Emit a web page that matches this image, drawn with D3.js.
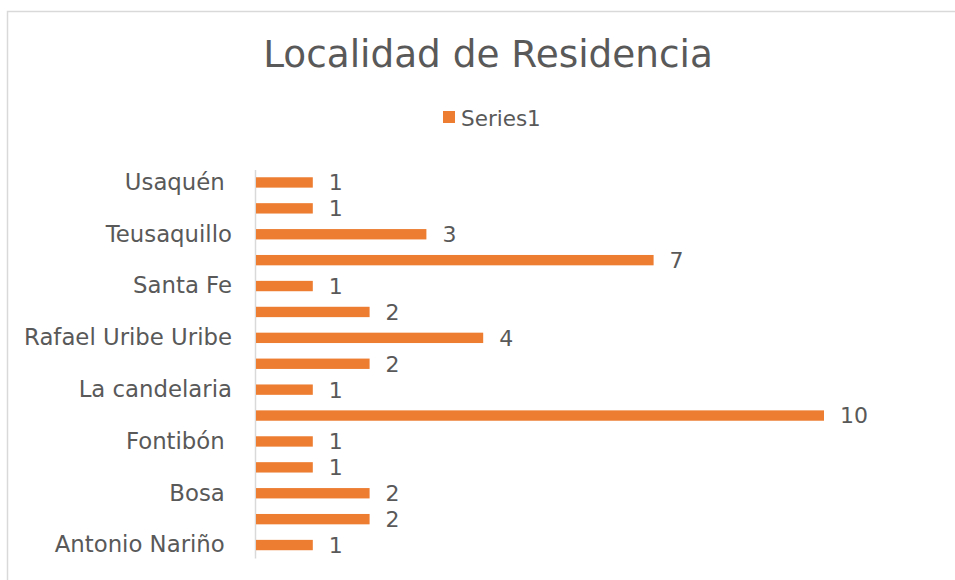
<!DOCTYPE html>
<html>
<head>
<meta charset="utf-8">
<script src="https://cdn.jsdelivr.net/npm/d3@7"></script>
<style>
  body { margin: 0; background: #fff; }
  text { font-family: "Century Gothic", "DejaVu Sans", sans-serif; fill: #595959; }
</style>
</head>
<body>
<div id="chart"></div>
<script>
// categories in sheet order (bottom to top); only every other one gets a label
var localidades = ["Antonio Nariño ", "Barrios Unidos", "Bosa ", "Chapinero", "Fontibón ",
    "Kennedy", "La candelaria", "Puente Aranda", "Rafael Uribe Uribe", "San Cristóbal",
    "Santa Fe", "Suba", "Teusaquillo", "Tunjuelito", "Usaquén "];
var valores = [1, 2, 2, 1, 1, 10, 1, 2, 4, 2, 1, 7, 3, 1, 1];
var serieNombre = "Series1";
var titulo = "Localidad de Residencia";

var width = 955;
var height = 580;
var naranja = "#ED7D31";

var svg = d3.select("#chart")
    .append("svg")
    .attr("width", width)
    .attr("height", height);

// chart frame
svg.append("rect")
    .attr("x", 7.5)
    .attr("y", 11.5)
    .attr("width", 962)
    .attr("height", 600)
    .attr("fill", "none")
    .attr("stroke", "#d9d9d9")
    .attr("stroke-width", 1.5);

svg.append("text")
    .attr("x", 488)
    .attr("y", 67)
    .attr("text-anchor", "middle")
    .style("font-size", "37.4px")
    .text(titulo);

// legend
var leyenda = svg.append("g").attr("transform", "translate(443,111)");
leyenda.append("rect")
    .attr("width", 12)
    .attr("height", 12)
    .attr("fill", naranja);
leyenda.append("text")
    .attr("x", 18)
    .attr("y", 15)
    .style("font-size", "21.5px")
    .text(serieNombre);

var x = d3.scaleLinear()
    .domain([0, 10])
    .range([256, 824]);

var y = d3.scaleBand()
    .domain(localidades.slice().reverse())
    .range([169.5, 558])
    .paddingInner(0.6)
    .paddingOuter(0.3);

var ejeY = svg.append("g")
    .attr("transform", "translate(255,0)")
    .call(d3.axisLeft(y)
        .tickSize(0)
        .tickPadding(23)
        .tickFormat(function (d) {
            return localidades.indexOf(d) % 2 == 0 ? d : "";
        }));
ejeY.select(".domain")
    .attr("stroke", "#d9d9d9")
    .attr("stroke-width", 1.5);
ejeY.selectAll("text")
    .attr("fill", "#595959")
    .style("font-family", "\"Century Gothic\", \"DejaVu Sans\", sans-serif")
    .style("font-size", "22.8px")
    .style("white-space", "pre");

svg.selectAll(".barra")
    .data(localidades)
    .enter()
    .append("rect")
    .attr("class", "barra")
    .attr("x", x(0))
    .attr("y", function (d) { return y(d); })
    .attr("width", function (d, i) { return x(valores[i]) - x(0); })
    .attr("height", y.bandwidth())
    .attr("fill", naranja);

svg.selectAll(".valor")
    .data(localidades)
    .enter()
    .append("text")
    .attr("class", "valor")
    .attr("x", function (d, i) { return x(valores[i]) + 16; })
    .attr("y", function (d) { return y(d) + y.bandwidth() / 2; })
    .attr("dy", "0.36em")
    .style("font-size", "22px")
    .text(function (d, i) { return valores[i]; });
</script>
</body>
</html>
